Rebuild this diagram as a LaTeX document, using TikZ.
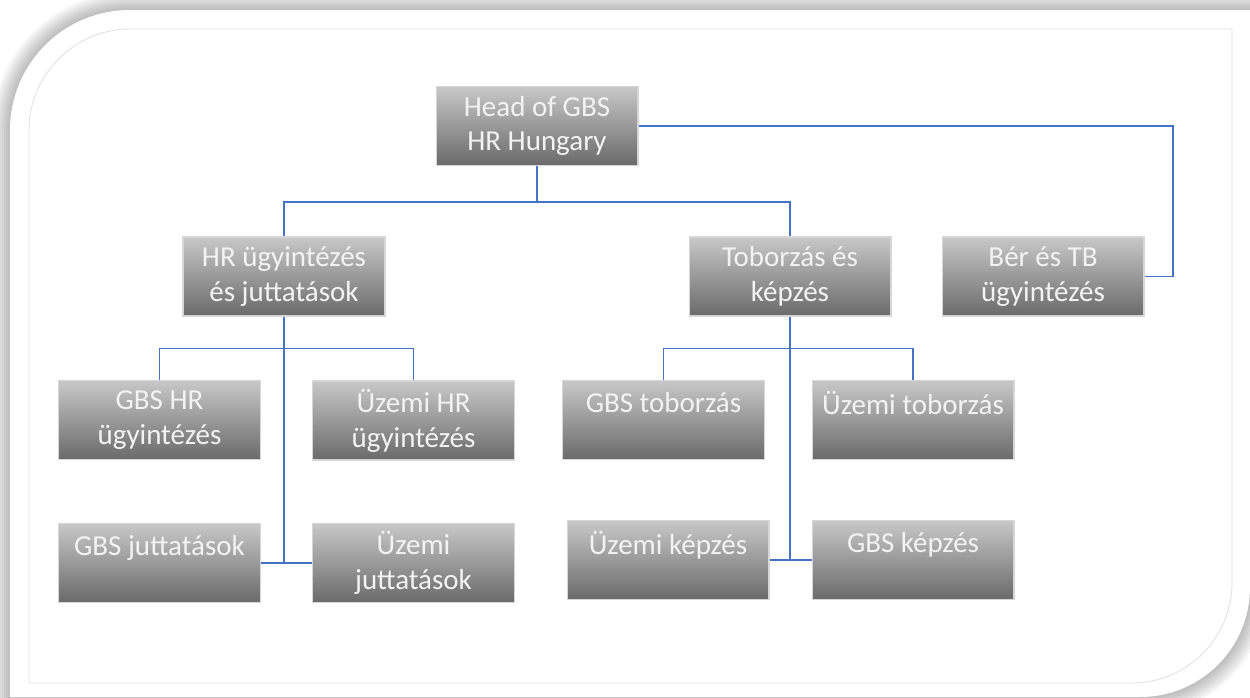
\documentclass[tikz,border=0pt]{standalone}
\usepackage{fontspec}
\setmainfont{Carlito}
\definecolor{boxtop}{RGB}{200,200,200}
\definecolor{boxbot}{RGB}{106,106,106}
\definecolor{boxline}{RGB}{214,214,214}
\definecolor{boxtext}{RGB}{243,243,243}
\definecolor{linkblue}{RGB}{68,114,196}

\begin{document}
\begin{tikzpicture}[x=0.02cm,y=-0.02cm]
\tikzset{unit/.style = {rectangle, draw=boxline, line width=0.6pt,
    top color=boxtop, bottom color=boxbot, text=boxtext,
    minimum width=4.04cm, minimum height=1.58cm, align=center,
    font=\fontsize{16.5}{19.8}\selectfont},
  link/.style = {draw=linkblue, line width=0.8pt}}
\useasboundingbox (0,0) rectangle (1250,697);
% khung nền + bóng
\foreach \w in {4,8,...,36}
  \draw[black, opacity=0.032, line width=\w*0.567pt] (10,697) -- (10,130) .. controls (10,63.7) and (63.7,10) .. (130,10)
  -- (1250,10) -- (1250,587) .. controls (1250,648) and (1201,697) .. (1140,697) -- cycle;
\fill[white] (10,697) -- (10,130) .. controls (10,63.7) and (63.7,10) .. (130,10)
  -- (1250,10) -- (1250,587) .. controls (1250,648) and (1201,697) .. (1140,697) -- cycle;
\draw[boxline!70, line width=0.5pt] (29,683) -- (29,130) .. controls (29,74.8) and (74.8,29) .. (130,29)
  -- (1232,29) -- (1232,583) .. controls (1232,638) and (1187,683) .. (1132,683) -- cycle;
% các ô
\node[unit] (head) at (537,126) {Head of GBS\\HR Hungary};
\node[unit] (hr) at (284,276.5) {HR ügyintézés\\és juttatások};
\node[unit] (tob) at (790,276.5) {Toborzás és\\képzés};
\node[unit] (ber) at (1043,276.5) {Bér és TB\\ügyintézés};
\node[unit] (gbshr) at (159.5,420) {GBS HR\\ügyintézés};
\node[unit] (uzhr) at (413.5,420.5) {Üzemi HR\\ügyintézés};
\node[unit] (gbsjut) at (159.5,563) {GBS juttatások\\\mbox{}};
\node[unit] (uzjut) at (413.5,563) {Üzemi\\juttatások};
\node[unit] (gbstob) at (663.5,420) {GBS toborzás\\\mbox{}};
\node[unit] (uztob) at (913,420) {Üzemi toborzás\\\mbox{}};
\node[unit] (uzkep) at (668,560) {Üzemi képzés\\\mbox{}};
\node[unit] (gbskep) at (913,560) {GBS képzés\\\mbox{}};
% đường nối
\coordinate (berbend) at (1173,276.5);
\coordinate (hrjoint) at (284,563);
\coordinate (tobjoint) at (790,560);
\draw[link] (head.south) -- ++(0,36) -| (hr.north);
\draw[link] (head.south) -- ++(0,36) -| (tob.north);
\draw[link] (head.east) -| (berbend) -- (ber.east);
\draw[link] (hr.south) -- ++(0,32) -| (gbshr.north);
\draw[link] (hr.south) -- ++(0,32) -| (uzhr.north);
\draw[link] (hr.south) -- (hrjoint);
\draw[link] (gbsjut.east) -- (uzjut.west);
\draw[link] (tob.south) -- ++(0,32) -| (gbstob.north);
\draw[link] (tob.south) -- ++(0,32) -| (uztob.north);
\draw[link] (tob.south) -- (tobjoint);
\draw[link] (uzkep.east) -- (gbskep.west);
\end{tikzpicture}
\end{document}
